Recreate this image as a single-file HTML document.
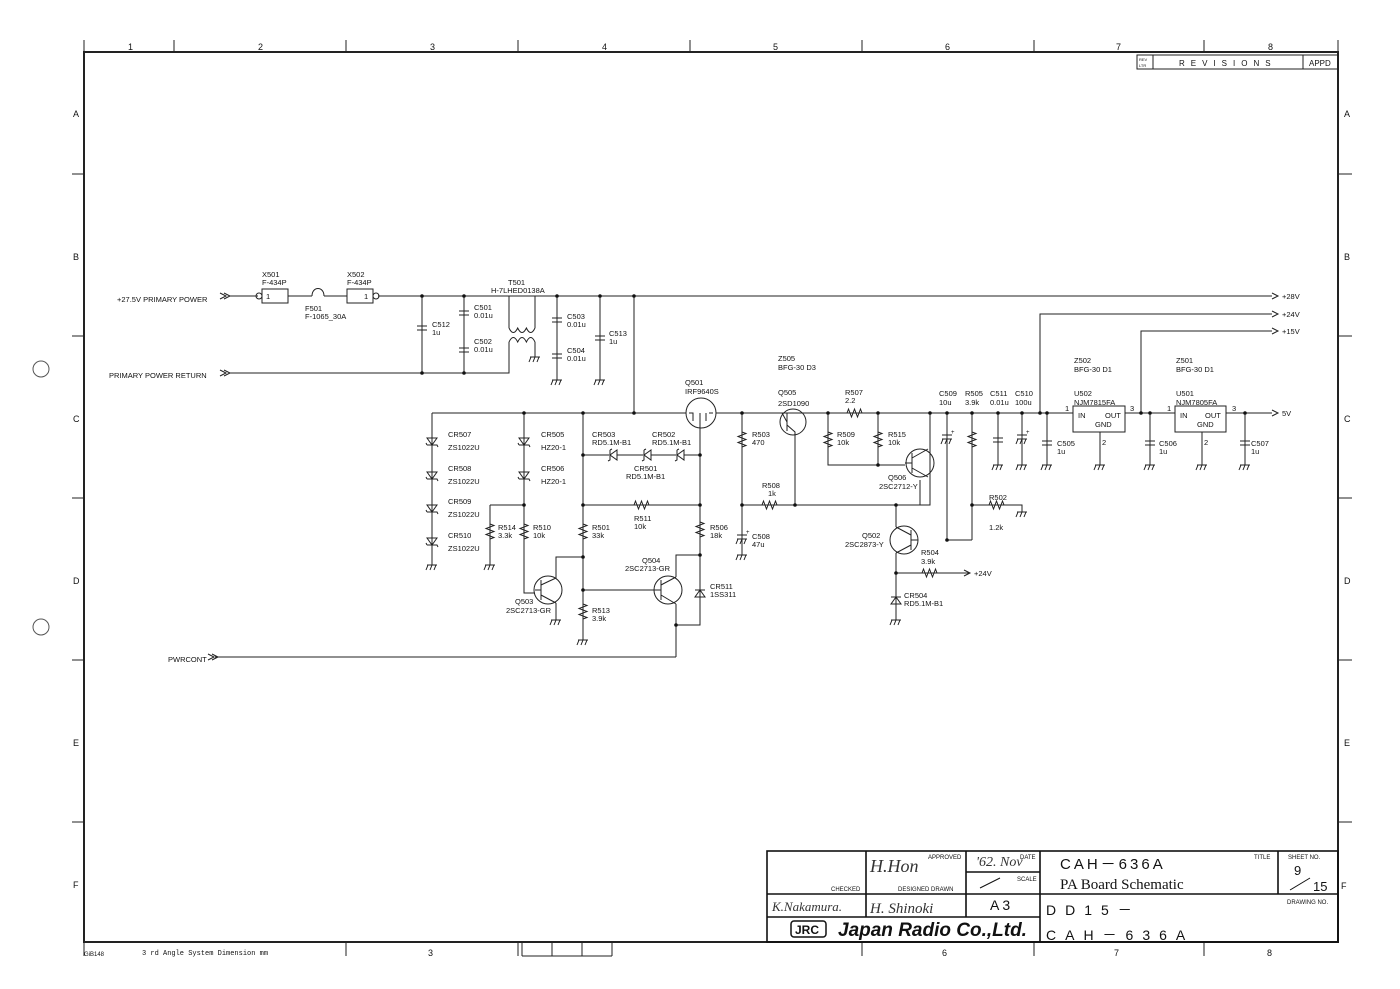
<!DOCTYPE html>
<html><head><meta charset="utf-8"><style>
html,body{margin:0;padding:0;background:#fff}
svg{display:block}
text{font-family:"Liberation Sans",sans-serif;fill:#111}
.s{font-size:7.5px}
</style></head><body>
<svg width="1400" height="989" viewBox="0 0 1400 989" xmlns="http://www.w3.org/2000/svg">
<defs>
<g id="rv"><path d="M0,-11v3l4,1.5l-8,3l8,3l-8,3l8,3l-4,1.5v3" fill="none" stroke="#222"/></g>
<g id="rh"><path d="M-11,0h3l1.5,-4l3,8l3,-8l3,8l3,-8l1.5,4h3" fill="none" stroke="#222"/></g>
<g id="gnd"><path d="M-5,0h10M-4,0l-2,5M0,0l-2,5M4,0l-2,5" fill="none" stroke="#222"/></g>
<g id="cv"><path d="M-5,-2h10M-5,2h10" stroke="#222" fill="none"/></g>
<g id="ce"><path d="M-5,-2h10M-5,2h10M-4,2l-2,5M0,2l-2,5M4,2l-2,5" stroke="#222" fill="none"/><text x="4" y="-3" style="font-size:6px">+</text></g>
<g id="zd"><path d="M-5,-3h10L0,4z M-5,4h10l1,2M-5,4l-1,-2" fill="none" stroke="#222"/></g>
<g id="du"><path d="M-5,4h10L0,-3z M-5,-3h10" fill="none" stroke="#222"/></g>
<g id="dl"><path d="M4,-5v10L-3,0z M-3,-5v10l-2,1M-3,-5l2,-1" fill="#fff" stroke="#222"/></g>
<g id="ar"><path d="M-6,-3l6,3l-6,3" fill="none" stroke="#222"/></g>
<g id="dot"><circle r="1.8" fill="#111"/></g>
</defs>
<g stroke="#222" fill="none" stroke-width="1">
<rect x="84" y="52" width="1254" height="890" stroke-width="2"/>
<path d="M84,40V52M174,40V52M346,40V52M518,40V52M690,40V52M862,40V52M1034,40V52M1204,40V52M1338,40V52"/>
<path d="M84,940V956M346,942V956M518,942V956M862,942V956M1034,942V956M1204,942V956"/>
<path d="M72,174H84M72,336H84M72,498H84M72,660H84M72,822H84M1338,174H1352M1338,336H1352M1338,498H1352M1338,660H1352M1338,822H1352"/>
<path d="M522,942v14M552,942v14M582,942v14M612,942v14M522,956H612"/>
<rect x="1137" y="55" width="201" height="14"/><path d="M1153,55v14M1303,55v14"/>
</g>
<circle cx="41" cy="369" r="8" fill="none" stroke="#555"/>
<circle cx="41" cy="627" r="8" fill="none" stroke="#555"/>
<g style="font-size:9px">
<text x="128" y="50">1</text><text x="258" y="50">2</text><text x="430" y="50">3</text><text x="602" y="50">4</text><text x="773" y="50">5</text><text x="945" y="50">6</text><text x="1116" y="50">7</text><text x="1268" y="50">8</text>
<text x="73" y="117">A</text><text x="73" y="260">B</text><text x="73" y="422">C</text><text x="73" y="584">D</text><text x="73" y="746">E</text><text x="73" y="888">F</text>
<text x="1344" y="117">A</text><text x="1344" y="260">B</text><text x="1344" y="422">C</text><text x="1344" y="584">D</text><text x="1344" y="746">E</text><text x="1341" y="889">F</text>
<text x="428" y="956">3</text><text x="942" y="956">6</text><text x="1114" y="956">7</text><text x="1267" y="956">8</text>
</g>
<text x="1179" y="66" style="font-size:8px;letter-spacing:6px">REVISIONS</text>
<text x="1309" y="66" style="font-size:8px">APPD</text>
<text x="1139" y="61" style="font-size:4px">REV</text><text x="1139" y="67" style="font-size:4px">LTR</text>
<text x="84" y="956" style="font-size:6px">GiB148</text>
<text x="142" y="955" style="font-size:7px;font-family:'Liberation Mono',monospace">3 rd Angle System  Dimension mm</text>

<g stroke="#111" fill="none" stroke-width="1.6">
<rect x="767" y="851" width="571" height="91"/>
<path d="M767,894H1040M767,917H1040M866,851V917M966,851V917M966,872H1040M966,894H1040M1040,851V942M1040,894H1338M1278,851V894"/>
</g>
<g style="font-size:6px">
<text x="928" y="859">APPROVED</text><text x="1020" y="859">DATE</text><text x="1017" y="881">SCALE</text>
<text x="831" y="891">CHECKED</text><text x="898" y="891">DESIGNED DRAWN</text>
<text x="1254" y="859">TITLE</text><text x="1288" y="859">SHEET NO.</text><text x="1287" y="904">DRAWING NO.</text>
</g>
<text x="1060" y="869" style="font-size:15px;letter-spacing:3px">CAH－636A</text>
<text x="1060" y="889" style="font-size:15px;font-family:'Liberation Serif',serif">PA Board Schematic</text>
<text x="1294" y="875" style="font-size:13px">9</text><path d="M1290,890L1310,878" stroke="#111"/><text x="1313" y="891" style="font-size:13px">15</text>
<text x="990" y="910" style="font-size:14px;letter-spacing:3px">A3</text>
<text x="1046" y="915" style="font-size:14px;letter-spacing:9px">DD15－</text>
<text x="1046" y="940" style="font-size:14px;letter-spacing:9px">CAH－636A</text>
<path d="M980,888L1000,878" stroke="#111"/>
<text x="976" y="866" style="font-size:14px;font-style:italic;fill:#333;font-family:'Liberation Serif',serif">'62. Nov</text>
<text x="870" y="872" style="font-size:18px;font-style:italic;fill:#333;font-family:'Liberation Serif',serif">H.Hon</text>
<text x="772" y="911" style="font-size:13px;font-style:italic;fill:#333;font-family:'Liberation Serif',serif">K.Nakamura.</text>
<text x="870" y="913" style="font-size:15px;font-style:italic;fill:#333;font-family:'Liberation Serif',serif">H. Shinoki</text>
<rect x="791" y="921" width="35" height="16" rx="3" fill="none" stroke="#111" stroke-width="1.5"/>
<text x="795" y="934" style="font-size:12px;font-weight:bold">JRC</text>
<text x="838" y="936" style="font-size:19px;font-weight:bold;font-style:italic">Japan Radio Co.,Ltd.</text>

<g stroke="#222" fill="none" stroke-width="1">
<path d="M230,296H258M288,296H312M324,296H347M378,296H1272"/>
<rect x="262" y="289" width="26" height="14"/><circle cx="259" cy="296" r="3"/>
<rect x="347" y="289" width="26" height="14"/><circle cx="376" cy="296" r="3"/>
<path d="M312,296c0,-10 12,-10 12,0"/>
<path d="M230,373H509V342M509,296V328M535,296V328M535,342V357"/>
<path d="M509,328q4.3,9 8.7,0q4.3,9 8.7,0q4.3,9 8.6,0M509,342q4.3,-9 8.7,0q4.3,-9 8.7,0q4.3,-9 8.6,0"/>
<path d="M422,296V373M464,296V373M557,296V380M600,296V380M634,296V413"/>
<path d="M1040,413V314H1272M1141,413V331H1272"/>
<path d="M432,413H686M716,413H1073M1125,413H1175M1226,413H1272"/>
<rect x="1073" y="406" width="52" height="26"/><rect x="1175" y="406" width="51" height="26"/>
<path d="M1100,432V465M1202,432V465M1047,413V465M1150,413V465M1245,413V465M998,413V465M1022,413V465"/>
<path d="M432,413V565M524,413V593H535M490,505H524M490,505V565"/>
<path d="M583,413V640M583,455H700M583,505H700M583,557H556V578M583,590H655M556,603V620"/>
<path d="M700,428V625H676V657M676,604V625M676,577V555H700M215,657H676"/>
<circle cx="548" cy="590" r="14"/><circle cx="668" cy="590" r="14"/>
<path d="M541,580V600M541,590H535M541,585L556,578M541,595L556,603M661,580V600M661,590H655M661,585L676,577M661,595L676,604"/>
<circle cx="701" cy="413" r="15"/>
<path d="M689,413h4v8M700,413v8M709,413h4M706,413v8M700,428V421"/>
<path d="M742,413V555M742,505H930V413M795,435V505"/>
<circle cx="793" cy="422" r="13"/>
<path d="M787,413V431M787,422l-5,-9M787,425l8,7V435"/>
<path d="M828,413V465H905M878,413V465M930,413V445M920,480V505"/>
<circle cx="920" cy="463" r="14"/>
<path d="M912,453V473M912,463H905M912,458L928,449M912,468L928,477"/>
<path d="M947,413V540H972M972,413V540M972,505H1022V512M896,505V527M896,553V620M896,573H970"/>
<circle cx="904" cy="540" r="14"/>
<path d="M911,530V550M911,540H918M911,535L896,527M911,545L896,553"/>
</g>
<g>
<use href="#cv" x="422" y="328"/><use href="#cv" x="464" y="313"/><use href="#cv" x="464" y="350"/>
<use href="#cv" x="557" y="320"/><use href="#cv" x="557" y="356"/><use href="#cv" x="600" y="338"/>
<use href="#gnd" x="557" y="380"/><use href="#gnd" x="600" y="380"/><use href="#gnd" x="535" y="357"/>
<use href="#zd" x="432" y="441"/><use href="#zd" x="432" y="475"/><use href="#zd" x="432" y="508"/><use href="#zd" x="432" y="541"/><use href="#gnd" x="432" y="565"/>
<use href="#zd" x="524" y="441"/><use href="#zd" x="524" y="475"/>
<use href="#rv" x="490" y="532"/><use href="#rv" x="524" y="532"/><use href="#gnd" x="490" y="565"/>
<use href="#rv" x="583" y="532"/><use href="#rv" x="583" y="612"/><use href="#gnd" x="583" y="640"/><use href="#gnd" x="556" y="620"/>
<use href="#dl" x="613" y="455"/><use href="#dl" x="647" y="455"/><use href="#dl" x="680" y="455"/>
<use href="#rh" x="642" y="505"/><use href="#rv" x="700" y="530"/><use href="#du" x="700" y="593"/>
<use href="#rv" x="742" y="440"/><use href="#rh" x="770" y="505"/><use href="#ce" x="742" y="537"/><use href="#gnd" x="742" y="555"/>
<use href="#rh" x="855" y="413"/><use href="#rv" x="828" y="440"/><use href="#rv" x="878" y="440"/>
<use href="#ce" x="947" y="437"/><use href="#rv" x="972" y="440"/><use href="#rh" x="997" y="505"/><use href="#gnd" x="1022" y="512"/>
<use href="#rh" x="930" y="573"/><use href="#ar" x="970" y="573"/><use href="#du" x="896" y="600"/><use href="#gnd" x="896" y="620"/>
<use href="#cv" x="998" y="440"/><use href="#ce" x="1022" y="437"/><use href="#gnd" x="998" y="465"/><use href="#gnd" x="1022" y="465"/>
<use href="#cv" x="1047" y="443"/><use href="#gnd" x="1047" y="465"/><use href="#gnd" x="1100" y="465"/>
<use href="#cv" x="1150" y="443"/><use href="#gnd" x="1150" y="465"/><use href="#gnd" x="1202" y="465"/>
<use href="#cv" x="1245" y="443"/><use href="#gnd" x="1245" y="465"/>
<use href="#ar" x="1278" y="296"/><use href="#ar" x="1278" y="314"/><use href="#ar" x="1278" y="331"/><use href="#ar" x="1278" y="413"/>
<use href="#ar" x="226" y="296"/><use href="#ar" x="230" y="296"/><use href="#ar" x="226" y="373"/><use href="#ar" x="230" y="373"/>
<use href="#ar" x="214" y="657"/><use href="#ar" x="218" y="657"/>
<g>
<use href="#dot" x="422" y="296"/><use href="#dot" x="464" y="296"/><use href="#dot" x="557" y="296"/><use href="#dot" x="600" y="296"/><use href="#dot" x="634" y="296"/>
<use href="#dot" x="422" y="373"/><use href="#dot" x="464" y="373"/><use href="#dot" x="524" y="413"/><use href="#dot" x="583" y="413"/><use href="#dot" x="634" y="413"/>
<use href="#dot" x="524" y="505"/><use href="#dot" x="583" y="455"/><use href="#dot" x="583" y="505"/><use href="#dot" x="583" y="557"/><use href="#dot" x="583" y="590"/>
<use href="#dot" x="700" y="455"/><use href="#dot" x="700" y="505"/><use href="#dot" x="700" y="555"/><use href="#dot" x="676" y="625"/>
<use href="#dot" x="742" y="413"/><use href="#dot" x="742" y="505"/><use href="#dot" x="795" y="505"/><use href="#dot" x="896" y="505"/><use href="#dot" x="896" y="573"/>
<use href="#dot" x="828" y="413"/><use href="#dot" x="878" y="413"/><use href="#dot" x="878" y="465"/><use href="#dot" x="930" y="413"/><use href="#dot" x="947" y="413"/><use href="#dot" x="972" y="413"/><use href="#dot" x="947" y="540"/><use href="#dot" x="972" y="505"/>
<use href="#dot" x="998" y="413"/><use href="#dot" x="1022" y="413"/><use href="#dot" x="1040" y="413"/><use href="#dot" x="1047" y="413"/><use href="#dot" x="1141" y="413"/><use href="#dot" x="1150" y="413"/><use href="#dot" x="1245" y="413"/>
</g>
</g>
<g class="s">
<text x="117" y="302">+27.5V PRIMARY POWER</text><text x="109" y="378">PRIMARY POWER RETURN</text><text x="168" y="662">PWRCONT</text>
<text x="262" y="277">X501</text><text x="262" y="285">F-434P</text><text x="266" y="299">1</text>
<text x="347" y="277">X502</text><text x="347" y="285">F-434P</text><text x="364" y="299">1</text>
<text x="305" y="311">F501</text><text x="305" y="319">F-1065_30A</text>
<text x="508" y="285">T501</text><text x="491" y="293">H-7LHED0138A</text>
<text x="432" y="327">C512</text><text x="432" y="335">1u</text>
<text x="474" y="310">C501</text><text x="474" y="318">0.01u</text><text x="474" y="344">C502</text><text x="474" y="352">0.01u</text>
<text x="567" y="319">C503</text><text x="567" y="327">0.01u</text><text x="567" y="353">C504</text><text x="567" y="361">0.01u</text>
<text x="609" y="336">C513</text><text x="609" y="344">1u</text>
<text x="685" y="385">Q501</text><text x="685" y="394">IRF9640S</text>
<text x="448" y="437">CR507</text><text x="448" y="450">ZS1022U</text><text x="448" y="471">CR508</text><text x="448" y="484">ZS1022U</text>
<text x="448" y="504">CR509</text><text x="448" y="517">ZS1022U</text><text x="448" y="538">CR510</text><text x="448" y="551">ZS1022U</text>
<text x="541" y="437">CR505</text><text x="541" y="450">HZ20-1</text><text x="541" y="471">CR506</text><text x="541" y="484">HZ20-1</text>
<text x="498" y="530">R514</text><text x="498" y="538">3.3k</text><text x="533" y="530">R510</text><text x="533" y="538">10k</text>
<text x="592" y="437">CR503</text><text x="592" y="445">RD5.1M-B1</text><text x="652" y="437">CR502</text><text x="652" y="445">RD5.1M-B1</text>
<text x="634" y="471">CR501</text><text x="626" y="479">RD5.1M-B1</text>
<text x="634" y="521">R511</text><text x="634" y="529">10k</text>
<text x="592" y="530">R501</text><text x="592" y="538">33k</text><text x="710" y="530">R506</text><text x="710" y="538">18k</text>
<text x="592" y="613">R513</text><text x="592" y="621">3.9k</text>
<text x="515" y="604">Q503</text><text x="506" y="613">2SC2713-GR</text>
<text x="642" y="563">Q504</text><text x="625" y="571">2SC2713-GR</text>
<text x="710" y="589">CR511</text><text x="710" y="597">1SS311</text>
<text x="778" y="361">Z505</text><text x="778" y="370">BFG-30 D3</text>
<text x="778" y="395">Q505</text><text x="778" y="406">2SD1090</text>
<text x="845" y="395">R507</text><text x="845" y="403">2.2</text>
<text x="752" y="437">R503</text><text x="752" y="445">470</text>
<text x="762" y="488">R508</text><text x="768" y="496">1k</text>
<text x="752" y="539">C508</text><text x="752" y="547">47u</text>
<text x="837" y="437">R509</text><text x="837" y="445">10k</text><text x="888" y="437">R515</text><text x="888" y="445">10k</text>
<text x="888" y="480">Q506</text><text x="879" y="489">2SC2712-Y</text>
<text x="862" y="538">Q502</text><text x="845" y="547">2SC2873-Y</text>
<text x="921" y="555">R504</text><text x="921" y="564">3.9k</text><text x="974" y="576">+24V</text>
<text x="904" y="598">CR504</text><text x="904" y="606">RD5.1M-B1</text>
<text x="939" y="396">C509</text><text x="939" y="405">10u</text><text x="965" y="396">R505</text><text x="965" y="405">3.9k</text>
<text x="990" y="396">C511</text><text x="990" y="405">0.01u</text><text x="1015" y="396">C510</text><text x="1015" y="405">100u</text>
<text x="989" y="500">R502</text><text x="989" y="530">1.2k</text>
<text x="1074" y="363">Z502</text><text x="1074" y="372">BFG-30 D1</text><text x="1176" y="363">Z501</text><text x="1176" y="372">BFG-30 D1</text>
<text x="1074" y="396">U502</text><text x="1074" y="405">NJM7815FA</text><text x="1176" y="396">U501</text><text x="1176" y="405">NJM7805FA</text>
<text x="1078" y="418">IN</text><text x="1105" y="418">OUT</text><text x="1095" y="427">GND</text>
<text x="1180" y="418">IN</text><text x="1205" y="418">OUT</text><text x="1197" y="427">GND</text>
<text x="1065" y="411">1</text><text x="1130" y="411">3</text><text x="1167" y="411">1</text><text x="1232" y="411">3</text>
<text x="1102" y="445">2</text><text x="1204" y="445">2</text>
<text x="1057" y="446">C505</text><text x="1057" y="454">1u</text><text x="1159" y="446">C506</text><text x="1159" y="454">1u</text><text x="1251" y="446">C507</text><text x="1251" y="454">1u</text>
<text x="1282" y="299">+28V</text><text x="1282" y="317">+24V</text><text x="1282" y="334">+15V</text><text x="1282" y="416">5V</text>
</g>
</svg>
</body></html>
